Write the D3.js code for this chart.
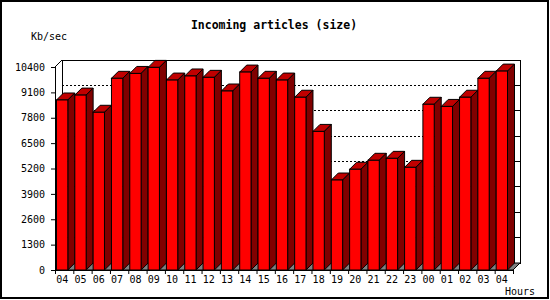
<!DOCTYPE html>
<html>
<head>
<meta charset="utf-8">
<script src="https://cdn.jsdelivr.net/npm/d3@7"></script>
<style>
  body{margin:0;background:#fff;}
  text{font-family:"DejaVu Sans Mono",monospace;font-size:10px;fill:#000;}
</style>
</head>
<body>
<div class="canvas"></div>
<script>
// data
const hours=['04','05','06','07','08','09','10','11','12','13','14','15','16','17','18','19','20','21','22','23','00','01','02','03','04'];
const kbps=[8710,8960,8080,9820,10070,10380,9730,9940,9870,9170,10140,9820,9730,8850,7100,4610,5160,5620,5720,5260,8490,8380,8850,9820,10190];
const yTicks=[0,1300,2600,3900,5200,6500,7800,9100,10400];

const W=550,H=300;
const depth=7;
const svg=d3.select('.canvas')
      .append('svg')
        .attr('width',W)
        .attr('height',H);

// outer frame
svg.append('rect')
   .attr('x',1).attr('y',1).attr('width',W-3).attr('height',H-3)
   .attr('fill','#fff').attr('stroke','#000').attr('stroke-width',2);

const idx=d3.range(hours.length);
const x=d3.scaleBand().domain(idx).range([55,513]).padding(0);
const xEdge=d3.scaleLinear().domain([0,hours.length]).range([55,513]);
const y=d3.scaleLinear().domain([0,10400]).range([270,67]);

const x0=xEdge(0),x1=xEdge(hours.length),yb=y(0),yt=y(10400);

// back wall
svg.append('rect')
   .attr('x',x0+depth).attr('y',yt-depth)
   .attr('width',x1-x0).attr('height',yb-yt)
   .attr('fill','#fff').attr('stroke','#000').attr('shape-rendering','crispEdges');

// dotted grid on the back wall + small ticks on the right edge
const grid=svg.append('g').attr('shape-rendering','crispEdges');
grid.selectAll('line.g')
    .data(yTicks.filter(v=>v>0&&v<10400))
    .enter().append('line')
      .attr('x1',x0+depth).attr('x2',x1+depth)
      .attr('y1',d=>y(d)-depth).attr('y2',d=>y(d)-depth)
      .attr('stroke','#000').attr('stroke-dasharray','2,2');
grid.selectAll('line.t')
    .data(yTicks.filter(v=>v>0&&v<10400))
    .enter().append('line')
      .attr('x1',x1+depth-4).attr('x2',x1+depth)
      .attr('y1',d=>y(d)-depth).attr('y2',d=>y(d)-depth)
      .attr('stroke','#000');

// floor
svg.append('path')
   .attr('d',`M${x0},${yb}L${x0+depth},${yb-depth}L${x1+depth},${yb-depth}L${x1},${yb}Z`)
   .attr('fill','#808080').attr('stroke','#000');

// bars
const bw=x.bandwidth();
const fw=bw-depth;
const bars=svg.selectAll('g.bar')
    .data(kbps)
    .enter().append('g')
      .attr('class','bar');

bars.append('path')   // top
    .attr('d',(d,i)=>{const a=x(i)+1.5,t=y(d);
      return `M${a},${t}L${a+depth},${t-depth}L${a+fw+depth},${t-depth}L${a+fw},${t}Z`;})
    .attr('fill','#c00000').attr('stroke','#000');
bars.append('path')   // side
    .attr('d',(d,i)=>{const a=x(i)+1.5+fw,t=y(d);
      return `M${a},${t}L${a+depth},${t-depth}L${a+depth},${yb-depth}L${a},${yb}Z`;})
    .attr('fill','#800000').attr('stroke','#000');
bars.append('rect')   // front
    .attr('x',(d,i)=>x(i)+1.5)
    .attr('y',d=>y(d))
    .attr('width',fw)
    .attr('height',d=>yb-y(d))
    .attr('fill','#ff0000').attr('stroke','#000');

// front axis lines
svg.append('path')
   .attr('d',`M${x0+depth},${yt-depth}L${x0},${yt}L${x0},${yb}L${x1},${yb}L${x1+depth},${yb-depth}`)
   .attr('fill','none').attr('stroke','#000').attr('shape-rendering','crispEdges');

// y axis
const yAxis=d3.axisLeft(y).tickValues(yTicks).tickSize(4).tickPadding(6).tickFormat(d=>d);
const yg=svg.append('g').attr('transform',`translate(${x0},0)`).call(yAxis);
yg.select('.domain').remove();
yg.selectAll('text').style('font-family','"DejaVu Sans Mono",monospace').style('font-size','10px');

// x ticks at band edges
const xt=svg.append('g').attr('transform',`translate(0,${yb})`)
   .call(d3.axisBottom(xEdge).tickValues(d3.range(hours.length+1)).tickSize(4).tickFormat(''));
xt.select('.domain').remove();

// x labels under the front faces
const xl=svg.append('g').attr('transform',`translate(${1.5+fw/2-bw/2},${yb})`)
   .call(d3.axisBottom(x).tickSize(0).tickPadding(6).tickFormat(i=>hours[i]));
xl.select('.domain').remove();
xl.selectAll('text').style('font-family','"DejaVu Sans Mono",monospace').style('font-size','10px');

// titles
svg.append('text').attr('x',274).attr('y',29).attr('text-anchor','middle')
   .style('font-weight','bold').style('font-size','11.5px')
   .text('Incoming articles (size)');
svg.append('text').attr('x',31).attr('y',40).text('Kb/sec');
svg.append('text').attr('x',535).attr('y',295).attr('text-anchor','end').text('Hours');
</script>
</body>
</html>
